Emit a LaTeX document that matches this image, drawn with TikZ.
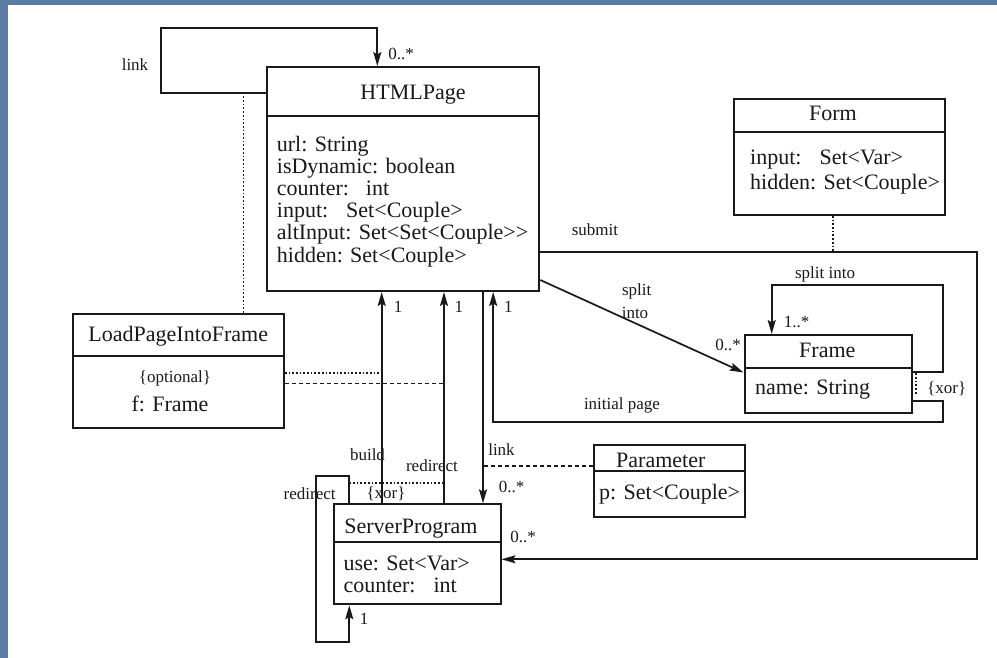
\documentclass[tikz,border=0pt]{standalone}
\usepackage{fontspec}
\setmainfont{Liberation Serif}
\usetikzlibrary{arrows.meta,calc}
\definecolor{bgblue}{RGB}{90,123,165}
\definecolor{ink}{RGB}{25,25,25}
\begin{document}
\begin{tikzpicture}[x=1pt,y=-1pt,
  box/.style={draw=ink, line width=2pt, inner sep=0pt, anchor=north west},
  sepline/.style={draw=ink, line width=2pt},
  big/.style={font=\fontsize{22}{22}\selectfont, inner sep=0pt, text=ink},
  lbl/.style={font=\fontsize{17}{17}\selectfont, inner sep=0pt, text=ink},
  conn/.style={draw=ink, line width=1.7pt, line join=miter},
  arr/.style={conn, -{Stealth[length=14pt,width=8pt,inset=2.5pt]}},
  dotln/.style={draw=ink, line width=1.7pt, dash pattern=on 1.7pt off 2pt},
  dashln/.style={draw=ink, line width=1.5pt, dash pattern=on 4pt off 3pt},
]
\useasboundingbox (0,0) rectangle (997,658);
\fill[bgblue] (0,0) rectangle (997,658);
\fill[white] (8,5) rectangle (997,658);

% ---------- boxes ----------
\node[box, minimum width=272.6pt, minimum height=224pt] (html) at (265.7,66) {};
\draw[sepline] ($(html.north west)+(0,49.7)$) -- ($(html.north east)+(0,49.7)$);
\node[big, anchor=base] (htmlT) at (413,99.5) {HTMLPage};
\node[big, anchor=base west] (h1) at (276.7,152) {url: String};
\node[big, anchor=base west] (h2) at (276.7,174) {isDynamic: boolean};
\node[big, anchor=base west] (h3) at (276.7,196) {counter:\hspace{17pt}int};
\node[big, anchor=base west] (h4) at (276.7,218) {input:\hspace{18pt}Set<Couple>};
\node[big, anchor=base west] (h5) at (276.7,240) {altInput: Set<Set<Couple>{}>};
\node[big, anchor=base west] (h6) at (276.7,262) {hidden: Set<Couple>};

\node[box, minimum width=211.3pt, minimum height=115.7pt] (form) at (732.7,98.3) {};
\draw[sepline] ($(form.north west)+(0,33.4)$) -- ($(form.north east)+(0,33.4)$);
\node[big, anchor=base] (formT) at (833,121) {Form};
\node[big, anchor=base west] (f1) at (750,164.5) {input:\hspace{18pt}Set<Var>};
\node[big, anchor=base west] (f2) at (750,189.5) {hidden: Set<Couple>};

\node[box, minimum width=167pt, minimum height=77.5pt] (frame) at (743.5,334) {};
\draw[sepline] ($(frame.north west)+(0,33.7)$) -- ($(frame.north east)+(0,33.7)$);
\node[big, anchor=base] (frameT) at (827.3,357) {Frame};
\node[big, anchor=base west] (fr1) at (755,394) {name: String};

\node[box, minimum width=211.1pt, minimum height=114.3pt] (lpif) at (71.7,312.7) {};
\draw[sepline] ($(lpif.north west)+(0,43.3)$) -- ($(lpif.north east)+(0,43.3)$);
\node[big, anchor=base] (lpifT) at (178.3,341.5) {LoadPageIntoFrame};
\node[lbl] (lpifO) at (175,378.3) {\{optional\}};
\node[big, anchor=base] (lpif1) at (170,411) {f: Frame};

\node[box, minimum width=151pt, minimum height=71.7pt] (param) at (593,444) {};
\draw[sepline] ($(param.north west)+(0,27)$) -- ($(param.north east)+(0,27)$);
\node[big, anchor=base] (paramT) at (660.8,467) {Parameter};
\node[big, anchor=base west] (p1) at (599,499) {p: Set<Couple>};

\node[box, minimum width=166.8pt, minimum height=100pt] (sp) at (332.7,503.3) {};
\draw[sepline] ($(sp.north west)+(0,38.4)$) -- ($(sp.north east)+(0,38.4)$);
\node[big, anchor=base] (spT) at (411,533.5) {ServerProgram};
\node[big, anchor=base west] (s1) at (343.3,570.5) {use: Set<Var>};
\node[big, anchor=base west] (s2) at (343.3,592) {counter:\hspace{18pt}int};

% ---------- coordinates ----------
\coordinate (La) at (160.7,92.7);
\coordinate (Lb) at (160.7,27.7);
\coordinate (Lc) at (377.3,27.7);
\coordinate (Ld) at (243.5,92.7);
\coordinate (Sb) at (977.3,251.7);
\coordinate (Sc) at (977.3,559.3);
\coordinate (Fd) at (832.7,251.7);
\coordinate (Da) at (538.3,280);
\coordinate (Db) at (744,372.5);
\coordinate (Fa) at (943.3,371.7);
\coordinate (Fb) at (943.3,285);
\coordinate (Fc) at (771.7,285);
\coordinate (Xa) at (916,373.3);
\coordinate (Xb) at (916,395);
\coordinate (Ia) at (943.3,400.7);
\coordinate (Ib) at (943.3,421.7);
\coordinate (Ic) at (493.2,421.7);
\coordinate (xb) at (381.7,0);
\coordinate (xr) at (444,0);
\coordinate (xl) at (483,0);
\coordinate (P1) at (381.7,372.7);
\coordinate (P2) at (444,383.7);
\coordinate (P3) at (483,466);
\coordinate (Ra) at (349.3,475.7);
\coordinate (Rb) at (315.7,475.7);
\coordinate (Rc) at (315.7,641.7);
\coordinate (Rd) at (349.3,641.7);
\coordinate (Xc) at (349.3,482.7);
\coordinate (Xd) at (444,482.7);

% ---------- connectors ----------
\draw[arr] (html.west |- La) -- (La) -- (Lb) -- (Lc) -- (html.north -| Lc);
\draw[dotln] (Ld) -- (lpif.north -| Ld);
\draw[arr] (html.east |- Sb) -- (Sb) -- (Sc) -- (sp.east |- Sc);
\draw[dotln] (form.south -| Fd) -- (Fd);
\draw[arr] (html.east |- Da) -- (frame.west |- Db);
\draw[arr] (frame.east |- Fa) -- (Fa) -- (Fb) -- (Fc) -- (frame.north -| Fc);
\draw[dotln] (Xa) -- (Xb);
\draw[arr] (frame.east |- Ia) -- (Ia) -- (Ib) -- (Ic) -- (html.south -| Ic);
\draw[arr] (sp.north -| xb) -- (html.south -| xb);
\draw[arr] (sp.north -| xr) -- (html.south -| xr);
\draw[arr] (html.south -| xl) -- (sp.north -| xl);
\draw[dotln] (lpif.east |- P1) -- (P1);
\draw[dashln] (lpif.east |- P2) -- (P2);
\draw[dashln] (param.west |- P3) -- (P3);
\draw[arr] (sp.north -| Ra) -- (Ra) -- (Rb) -- (Rc) -- (Rd) -- (sp.south -| Rd);
\draw[dotln] (Xc) -- (Xd);

% ---------- labels ----------
\node[lbl] (tlink) at (135,65) {link};
\node[lbl] (m1) at (401,54) {0..*};
\node[lbl] (tsubmit) at (595,230) {submit};
\node[lbl] (tsplitA) at (636.7,291.7) {split};
\node[lbl] (tsplitB) at (635,313) {into};
\node[lbl] (m2) at (728,345) {0..*};
\node[lbl] (tsplit2) at (825,274) {split into};
\node[lbl] (m3) at (796.7,321.7) {1..*};
\node[lbl] (txor1) at (946.7,388.3) {\{xor\}};
\node[lbl] (tinit) at (622,405.7) {initial page};
\node[lbl] (o1) at (398,307.3) {1};
\node[lbl] (o2) at (458.8,307.3) {1};
\node[lbl] (o3) at (508.4,307.3) {1};
\node[lbl] (tbuild) at (367.5,455) {build};
\node[lbl] (tred1) at (432,465.5) {redirect};
\node[lbl] (tlink2) at (501.5,449.3) {link};
\node[lbl] (m4) at (511.7,486.7) {0..*};
\node[lbl] (tred2) at (309.7,493.3) {redirect};
\node[lbl] (txor2) at (386,493.3) {\{xor\}};
\node[lbl] (m5) at (523,537) {0..*};
\node[lbl] (o4) at (364,619) {1};
\end{tikzpicture}
\end{document}
